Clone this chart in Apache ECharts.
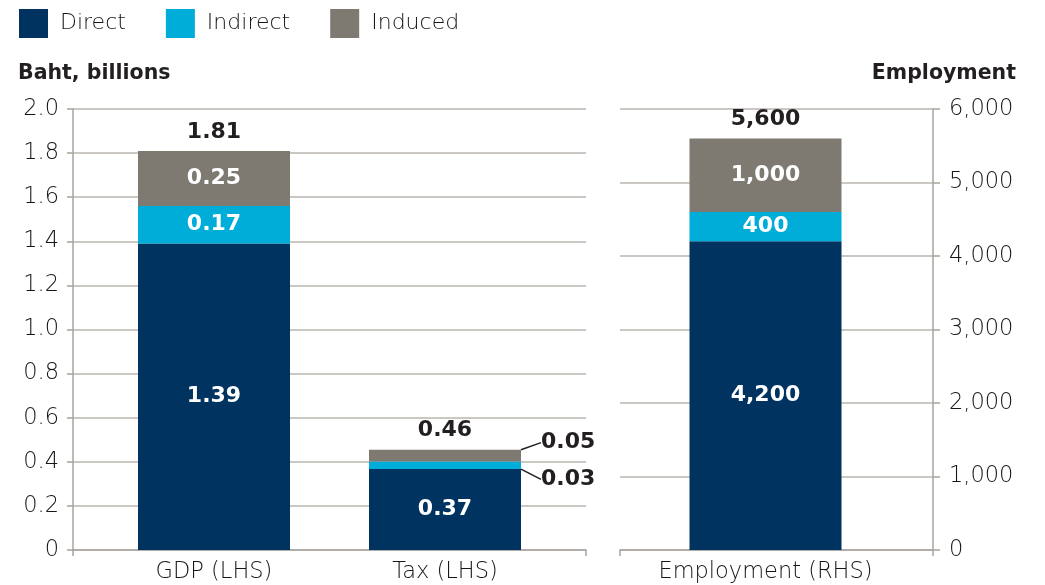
<!DOCTYPE html>
<html>
<head>
<meta charset="utf-8">
<script src="https://cdn.jsdelivr.net/npm/echarts@6/dist/echarts.min.js"></script>
<style>
  html, body { margin: 0; padding: 0; background: #fff; }
  #chart { width: 1045px; height: 585px; }
</style>
</head>
<body>
<div id="chart"></div>
<script>
// left panel (Baht, billions)
const lhsCategories = ['GDP (LHS)', 'Tax (LHS)'];
const lhsDirect = [1.39, 0.367];
const lhsIndirect = [0.17, 0.034];
const lhsInduced = [0.25, 0.054];
const lhsTotals = [1.81, 0.46];

// right panel (Employment)
const rhsCategories = ['Employment (RHS)'];
const rhsDirect = [4200];
const rhsIndirect = [400];
const rhsInduced = [1000];
const rhsTotals = [5600];

const colors = { Direct: '#00335f', Indirect: '#00acd8', Induced: '#7e7a72' };
const axisGray = '#a9a49e';
const gridGray = '#bab5af';
const textDark = '#231f20';
const textLight = '#161616';
const font = 'DejaVu Sans';

let chart = echarts.init(document.getElementById('chart'));

function fmtLeft(v) { return v.toFixed(2); }
function fmtRight(v) { return v.toLocaleString('en-US'); }

function inside(fmt) {
    return {
        show: true, position: 'inside', color: '#fff',
        fontFamily: font, fontWeight: 'bold', fontSize: 22,
        formatter: p => fmt(p.value)
    };
}

// small tax segments get a call-out on the right
function callout(value) {
    return {
        value: value,
        label: { position: 'right', color: textDark, distance: 5 }
    };
}

function totalLabel(totals, fmt) {
    return {
        show: true, position: 'top', distance: 8, color: textDark,
        fontFamily: font, fontWeight: 'bold', fontSize: 22,
        formatter: p => fmt(totals[p.dataIndex])
    };
}

let barW = 152;
let lineStyle = { color: axisGray, width: 1.5 };
let tickFont = { fontFamily: font, fontSize: 22.5, fontWeight: 200, color: textLight };

let option = {
    animation: false,
    textStyle: { fontFamily: font },
    title: [
        { text: 'Baht, billions', left: 18, top: 63, padding: 0,
          textStyle: { fontFamily: font, fontSize: 20.5, fontWeight: 'bold', color: textDark } },
        { text: 'Employment', right: 29, top: 63, padding: 0,
          textStyle: { fontFamily: font, fontSize: 20.5, fontWeight: 'bold', color: textDark } }
    ],
    legend: {
        data: ['Direct', 'Indirect', 'Induced'],
        left: 19, top: 9, padding: 0,
        icon: 'rect', itemWidth: 29, itemHeight: 29, itemGap: 40,
        textStyle: { fontFamily: font, fontSize: 22, fontWeight: 200, color: textLight, padding: [0, 0, 0, 7] }
    },
    grid: [
        { left: 73, top: 109, width: 513, height: 441, outerBoundsMode: 'none' },
        { left: 98.5, top: 109, width: 462, height: 441, outerBoundsMode: 'none' },
        { left: 620, top: 109, width: 313, height: 441, outerBoundsMode: 'none' },
        { left: 609, top: 109, width: 313, height: 441, outerBoundsMode: 'none' }
    ],
    xAxis: [
        { gridIndex: 0, type: 'category', data: [''], axisLine: { lineStyle: lineStyle },
          axisTick: { show: true, length: 6, lineStyle: lineStyle }, axisLabel: { show: false } },
        { gridIndex: 1, type: 'category', data: lhsCategories, axisLine: { show: false }, axisTick: { show: false },
          axisLabel: Object.assign({ margin: 11 }, tickFont) },
        { gridIndex: 2, type: 'category', data: [''], axisLine: { lineStyle: lineStyle },
          axisTick: { show: true, length: 6, lineStyle: lineStyle }, axisLabel: { show: false } },
        { gridIndex: 3, type: 'category', data: rhsCategories, axisLine: { show: false }, axisTick: { show: false },
          axisLabel: Object.assign({ margin: 11 }, tickFont) }
    ],
    yAxis: [
        { gridIndex: 0, type: 'value', min: 0, max: 2, interval: 0.2,
          axisLine: { show: true, lineStyle: lineStyle },
          axisTick: { show: true, length: 6, lineStyle: lineStyle },
          splitLine: { lineStyle: { color: gridGray, width: 1.5 } },
          axisLabel: Object.assign({ margin: 14, formatter: v => v === 0 ? '0' : v.toFixed(1) }, tickFont) },
        { gridIndex: 1, type: 'value', min: 0, max: 2, show: false },
        { gridIndex: 2, type: 'value', position: 'right', min: 0, max: 6000, interval: 1000,
          axisLine: { show: true, lineStyle: lineStyle },
          axisTick: { show: true, length: 7, lineStyle: lineStyle },
          splitLine: { lineStyle: { color: gridGray, width: 1.5 } },
          axisLabel: Object.assign({ margin: 16, formatter: v => fmtRight(v) }, tickFont) },
        { gridIndex: 3, type: 'value', min: 0, max: 6000, show: false }
    ],
    series: [
        { name: 'Direct', type: 'bar', stack: 'lhs', xAxisIndex: 1, yAxisIndex: 1, barWidth: barW,
          itemStyle: { color: colors.Direct }, label: inside(fmtLeft), data: lhsDirect },
        { name: 'Indirect', type: 'bar', stack: 'lhs', xAxisIndex: 1, yAxisIndex: 1, barWidth: barW,
          itemStyle: { color: colors.Indirect }, label: inside(fmtLeft),
          labelLine: { show: true, lineStyle: { color: textDark, width: 1.5 } },
          labelLayout: p => p.dataIndex === 1 ? { dx: 15, dy: 14 } : {},
          data: [lhsIndirect[0], callout(lhsIndirect[1])] },
        { name: 'Induced', type: 'bar', stack: 'lhs', xAxisIndex: 1, yAxisIndex: 1, barWidth: barW,
          itemStyle: { color: colors.Induced }, label: inside(fmtLeft),
          labelLine: { show: true, lineStyle: { color: textDark, width: 1.5 } },
          labelLayout: p => p.dataIndex === 1 ? { dx: 15, dy: -13 } : {},
          data: [lhsInduced[0], callout(lhsInduced[1])] },
        { name: 'TotalL', type: 'bar', stack: 'lhs', xAxisIndex: 1, yAxisIndex: 1, barWidth: barW,
          itemStyle: { color: 'transparent' }, label: totalLabel(lhsTotals, fmtLeft), data: [0, 0] },

        { name: 'Direct', type: 'bar', stack: 'rhs', xAxisIndex: 3, yAxisIndex: 3, barWidth: barW,
          itemStyle: { color: colors.Direct }, label: inside(fmtRight), data: rhsDirect },
        { name: 'Indirect', type: 'bar', stack: 'rhs', xAxisIndex: 3, yAxisIndex: 3, barWidth: barW,
          itemStyle: { color: colors.Indirect }, label: inside(fmtRight), data: rhsIndirect },
        { name: 'Induced', type: 'bar', stack: 'rhs', xAxisIndex: 3, yAxisIndex: 3, barWidth: barW,
          itemStyle: { color: colors.Induced }, label: inside(fmtRight), data: rhsInduced },
        { name: 'TotalR', type: 'bar', stack: 'rhs', xAxisIndex: 3, yAxisIndex: 3, barWidth: barW,
          itemStyle: { color: 'transparent' }, label: totalLabel(rhsTotals, fmtRight), data: [0] }
    ]
};

chart.setOption(option);
</script>
</body>
</html>
